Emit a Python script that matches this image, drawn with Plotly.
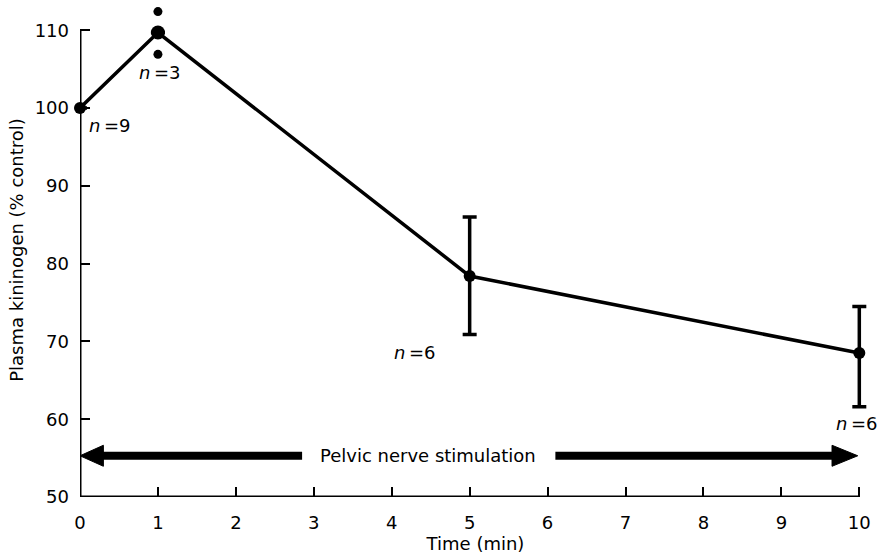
import plotly.graph_objects as go

time_min = [0, 1, 5, 10]
kininogen = [100, 109.7, 78.4, 68.5]
err_plus = [0, 0, 7.6, 6.0]
err_minus = [0, 0, 7.5, 6.9]
n_labels = ["n=9", "n=3", "n=6", "n=6"]
indiv_t = [1, 1]
indiv_vals = [112.4, 106.9]
x_ticks = list(range(0, 11))
y_ticks = [50, 60, 70, 80, 90, 100, 110]

FONT = "DejaVu Sans, Liberation Sans, Arial, sans-serif"
TXT = dict(family=FONT, size=18, color="black")

fig = go.Figure()
# line with error bars
fig.add_trace(go.Scatter(
    x=time_min, y=kininogen, mode="lines",
    line=dict(color="black", width=3.5),
    error_y=dict(type="data", symmetric=False, array=err_plus, arrayminus=err_minus,
                 color="black", thickness=3.5, width=7),
    cliponaxis=False, showlegend=False))
# mean markers
fig.add_trace(go.Scatter(
    x=time_min, y=kininogen, mode="markers",
    marker=dict(color="black", size=[12, 14, 12, 12], opacity=1,
                line=dict(width=0)),
    cliponaxis=False, showlegend=False))
# individual points
fig.add_trace(go.Scatter(
    x=indiv_t, y=indiv_vals, mode="markers",
    marker=dict(color="black", size=9, opacity=1, line=dict(width=0)),
    cliponaxis=False, showlegend=False))

# n labels
label_pos = [(0.38, 97.8), (1.03, 104.6), (4.3, 68.6), (9.97, 59.5)]
for (lx, ly), lab in zip(label_pos, n_labels):
    fig.add_annotation(x=lx, y=ly, text="<i>n</i>\u2009=" + lab.split("=")[1], showarrow=False,
                       font=TXT)

# axis lines drawn only over the labelled ranges
fig.add_shape(type="line", x0=0, x1=0, y0=50, y1=110, line=dict(color="black", width=3))
fig.add_shape(type="line", x0=0, x1=10, y0=50, y1=50, line=dict(color="black", width=3))

# stimulation arrows
arrow_y = 55.3
fig.add_shape(type="line", x0=0.25, x1=2.85, y0=arrow_y, y1=arrow_y,
              line=dict(color="black", width=8))
fig.add_shape(type="path", path=f"M 0,{arrow_y} L 0.3,{arrow_y+1.35} L 0.3,{arrow_y-1.35} Z",
              fillcolor="black", line=dict(color="black", width=1))
fig.add_shape(type="line", x0=6.1, x1=9.7, y0=arrow_y, y1=arrow_y,
              line=dict(color="black", width=8))
fig.add_shape(type="path", path=f"M 9.98,{arrow_y} L 9.65,{arrow_y+1.35} L 9.65,{arrow_y-1.35} Z",
              fillcolor="black", line=dict(color="black", width=1))
fig.add_annotation(x=4.47, y=arrow_y, text="Pelvic nerve stimulation", showarrow=False,
                   font=TXT)

fig.update_xaxes(range=[0, 10.15], tickvals=x_ticks, ticks="inside", ticklen=10, tickwidth=2,
                 tickcolor="black", showline=False,
                 showgrid=False, zeroline=False, ticklabelstandoff=13,
                 tickfont=TXT,
                 title=dict(text="Time (min)", font=TXT, standoff=0))
fig.update_yaxes(range=[50, 113.5], tickvals=y_ticks, ticks="inside", ticklen=10, tickwidth=2,
                 tickcolor="black", showline=False,
                 showgrid=False, zeroline=False, ticklabelstandoff=10,
                 tickfont=TXT,
                 title=dict(text="Plasma kininogen (% control)", font=TXT, standoff=6))
fig.update_layout(width=877, height=554, margin=dict(l=80, r=6, t=3, b=57),
                  plot_bgcolor="white", paper_bgcolor="white")
fig.write_html("out.html")
